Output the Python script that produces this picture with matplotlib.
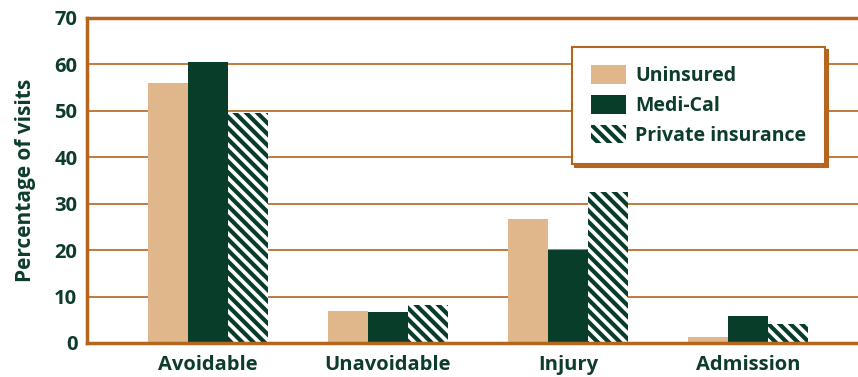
import numpy as np
import matplotlib
matplotlib.use('Agg')
import matplotlib.pyplot as plt

categories = ['Avoidable', 'Unavoidable', 'Injury', 'Admission']
series = ['Uninsured', 'Medi-Cal', 'Private insurance']
uninsured = [56.0, 6.9, 26.7, 1.3]
medi_cal = [60.6, 6.7, 20.0, 5.8]
private_ins = [49.6, 8.2, 32.5, 4.1]
yticks = [0, 10, 20, 30, 40, 50, 60, 70]

tan = '#E0B68B'
green = '#083D2A'
orange = '#B5651D'
text_c = '#0D3D2A'

plt.rcParams['font.family'] = ['Open Sans', 'DejaVu Sans']
plt.rcParams['font.weight'] = 'bold'
plt.rcParams['hatch.linewidth'] = 3.0
plt.rcParams['hatch.color'] = green

fig = plt.figure(figsize=(8.58, 3.77), dpi=100)
ax = fig.add_axes([0.1014, 0.0902, 0.8986, 0.8621])

x = np.arange(len(categories))
w = 0.222
ax.bar(x - w, uninsured, w, color=tan, label=series[0], zorder=2)
ax.bar(x, medi_cal, w, color=green, label=series[1], zorder=2)
ax.bar(x + w, private_ins, w, facecolor='white', edgecolor=green, linewidth=0,
       hatch='\\\\\\', label=series[2], zorder=2)

ax.set_xlim(-0.672, 3.611)
ax.set_ylim(0, 70)
ax.set_yticks(yticks)
ax.set_xticks(x)
ax.set_xticklabels(categories)
ax.tick_params(length=0, labelsize=14.5, colors=text_c, pad=7)
for lab in ax.get_xticklabels() + ax.get_yticklabels():
    lab.set_fontweight('bold')
ax.tick_params(axis='x', pad=9)
ax.yaxis.grid(True, color=orange, linewidth=1.2)
ax.set_axisbelow(True)

ax.spines['right'].set_visible(False)
for s in ['left', 'bottom', 'top']:
    ax.spines[s].set_color(orange)
    ax.spines[s].set_linewidth(2.5)

ax.set_ylabel('Percentage of visits', fontsize=15, fontweight='bold',
              color=text_c, labelpad=13)

leg = ax.legend(loc='upper right', bbox_to_anchor=(0.957, 0.911), borderaxespad=0,
                fancybox=False, shadow={'color': orange, 'alpha': 1},
                frameon=True, fontsize=14, handlelength=1.85, handleheight=1.1,
                labelspacing=0.45, handletextpad=0.45, borderpad=0.95)
leg.get_frame().set_edgecolor(orange)
leg.get_frame().set_linewidth(1.5)
for t in leg.get_texts():
    t.set_color(text_c)
    t.set_fontweight('bold')

fig.savefig('out.png', dpi=100)
